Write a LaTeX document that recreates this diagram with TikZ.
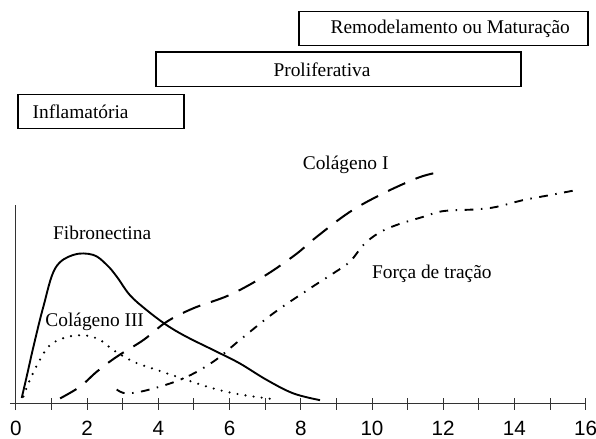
\documentclass[tikz,border=0pt]{standalone}
\usepackage{fontspec}
\setmainfont{Liberation Serif}
\newfontfamily\eixofont{Liberation Sans}
\usetikzlibrary{positioning}
\tikzset{
  fase/.style = {
    draw, line width=1pt, inner sep=0pt
  },
  rotulo/.style = {
    font=\fontsize{15.5}{18}\selectfont, inner sep=0pt
  },
  numero/.style = {
    font=\eixofont\fontsize{16.5}{18}\selectfont, inner sep=0pt
  },
  eixo/.style = {
    line width=.8pt, black!80
  },
  fibra/.style = {
    line width=1.5pt
  },
  tipoIII/.style = {
    line width=1.9pt, line cap=round, dash pattern=on 0pt off 6.5pt
  },
  tipoI/.style = {
    line width=1.6pt, dash pattern=on 15pt off 9pt
  },
  tracao/.style = {
    line width=1.5pt, dash pattern=on 7pt off 6pt on 1.2pt off 6pt
  }
}

\begin{document}
\begin{tikzpicture}
    \useasboundingbox (-0.449,-1.011) rectangle (16.292,11.320);
    % as fases
    \node[fase, minimum width=4.66cm, minimum height=.955cm] (inf) at (2.39,8.18) {};
    \node[rotulo, right=.42cm of inf.west] (infTxt) {Inflamatória};
    \node[fase, minimum width=10.25cm, minimum height=.98cm] (prol) at (9.06,9.37) {};
    \node[rotulo, right=3.31cm of prol.west] (prolTxt) {Proliferativa};
    \node[fase, minimum width=8.12cm, minimum height=.955cm] (rem) at (12.01,10.51) {};
    \node[rotulo, right=.90cm of rem.west] (remTxt) {Remodelamento ou Maturação};
    % os eixos
    \path
      (-0.17,0) coordinate (O1)
      (16,0) coordinate (O2)
      (0,-0.2) coordinate (Y1)
      (0,5.56) coordinate (Y2)
    ;
    \draw[eixo] (O1) -- (O2);
    \draw[eixo] (Y1) -- (Y2);
    \foreach \x in {1,...,16}
      \draw[eixo] (\x,.14) -- (\x,-.2);
    \foreach \x in {0,2,...,16}
      \node[numero] (n\x) at (\x,-.72) {\x};
    % as curvas
    \draw[fibra] plot[smooth, tension=.6] coordinates {
      (0.16,0.14) (0.30,0.74) (0.49,1.58) (0.77,2.71) (1.10,3.78)
      (1.61,4.16) (2.17,4.16) (2.55,3.88) (2.83,3.55) (3.20,3.03)
      (3.67,2.61) (4.23,2.19) (4.79,1.86) (5.64,1.44) (6.29,1.11)
      (7.04,0.65) (7.79,0.27) (8.54,0.08)
    };
    \draw[tipoIII] plot[smooth, tension=.6] coordinates {
      (0.21,0.18) (0.39,0.65) (0.67,1.21) (0.96,1.63) (1.42,1.85)
      (1.94,1.90) (2.36,1.77) (2.73,1.49) (3.30,1.16) (3.95,0.93)
      (4.79,0.65) (5.54,0.41) (6.29,0.24) (7.28,0.10)
    };
    \draw[tipoI] plot[smooth, tension=.6] coordinates {
      (1.24,0.13) (1.80,0.46) (2.27,0.88) (2.83,1.30) (3.58,1.77)
      (4.23,2.28) (4.98,2.66) (5.99,3.03) (6.95,3.55) (7.84,4.16)
      (8.45,4.67) (9.38,5.37) (10.32,5.89) (11.25,6.31) (11.72,6.45)
    };
    \draw[tracao] plot[smooth, tension=.6] coordinates {
      (2.83,0.38) (3.11,0.27) (3.76,0.38) (4.70,0.69) (5.54,1.16)
      (6.29,1.77) (7.23,2.52) (8.26,3.22) (8.91,3.64) (9.38,3.97)
      (9.76,4.44) (10.18,4.77) (10.69,5.0) (11.44,5.23) (12.0,5.39)
      (12.94,5.44) (13.5,5.51) (14.25,5.70) (15.0,5.84) (15.84,6.0)
    };
    % os nomes
    \node[rotulo] (fib) at (2.42,4.78) {Fibronectina};
    \node[rotulo] (col3) at (2.21,2.28) {Colágeno III};
    \node[rotulo] (col1) at (9.26,6.69) {Colágeno I};
    \node[rotulo] (forca) at (11.68,3.64) {Força de tração};
\end{tikzpicture}
\end{document}
